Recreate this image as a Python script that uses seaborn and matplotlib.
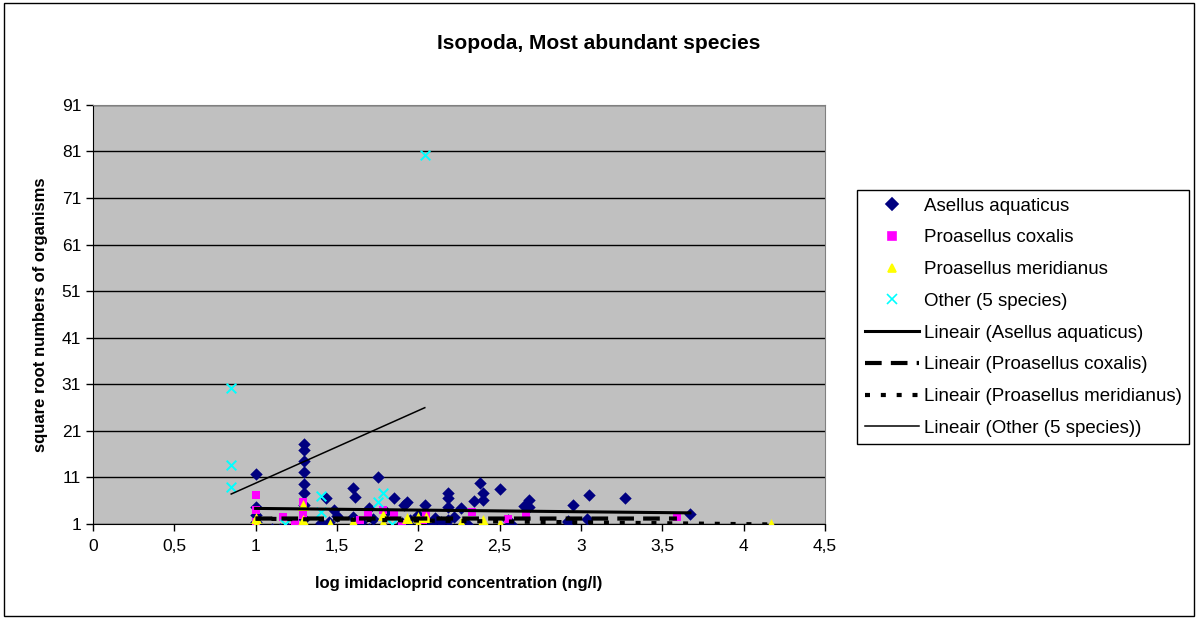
import pandas as pd
import matplotlib.pyplot as plt
import seaborn as sns
import numpy as np
from matplotlib.lines import Line2D

# Data (x = log imidacloprid conc., y = sqrt numbers)
# sites with zero counts sit at y = 0, below the axis minimum of 1, so they
# are not visible but they still pull the trend lines down
asellus_x = [1.00, 1.00, 1.00, 1.00,
             1.30, 1.30, 1.30, 1.30, 1.30, 1.30, 1.30, 1.30,
             1.40, 1.43, 1.48, 1.45, 1.50,
             1.60, 1.61, 1.60, 1.65, 1.70, 1.75, 1.72, 1.80,
             1.85, 1.91, 1.93, 1.95, 1.90, 2.04, 2.00, 2.08, 2.10,
             2.14, 2.18, 2.18, 2.18, 2.18, 2.26, 2.22, 2.30, 2.34,
             2.38, 2.40, 2.40, 2.50, 2.55, 2.57, 2.65, 2.68, 2.68,
             2.92, 2.92, 2.95, 3.04, 3.05, 3.27, 3.67,
             1.00, 1.00, 1.10, 1.15, 1.20, 1.20, 1.25, 1.30,
             1.60, 1.70, 1.80, 1.90, 2.00, 2.00, 2.10, 2.20, 2.30, 2.40]
asellus_y = [11.7, 4.6, 3.0, 1.5,
             18.2, 16.9, 14.5, 12.1, 9.6, 7.7, 5.0, 2.0,
             1.2, 6.6, 4.0, 1.5, 2.8,
             8.7, 6.8, 2.5, 1.5, 4.4, 11.1, 2.0, 3.5,
             6.6, 5.1, 5.7, 1.8, 1.2, 5.1, 3.0, 1.3, 2.2,
             1.4, 7.7, 6.6, 4.7, 1.9, 4.4, 2.5, 1.0, 5.9,
             9.8, 7.7, 6.2, 8.5, 1.9, 1.0, 4.9, 6.2, 4.7,
             1.6, 1.4, 5.1, 2.1, 7.2, 6.6, 3.1,
             0, 0, 0, 0, 0, 0, 0, 0,
             0, 0, 0, 0, 0, 0, 0, 0, 0, 0]

coxalis_x = [1.00, 1.00, 1.00, 1.17, 1.24, 1.29, 1.29, 1.64, 1.69, 1.78,
             1.85, 1.90, 2.03, 2.05, 2.33, 2.55, 2.66, 3.59,
             1.00, 1.10, 1.30, 1.50, 1.60, 1.80, 2.00]
coxalis_y = [7.2, 4.0, 1.4, 2.5, 1.2, 5.7, 2.9, 1.9, 3.4, 4.0,
             3.4, 1.0, 1.9, 2.9, 3.6, 2.1, 2.7, 2.5,
             0, 0, 0, 0, 0, 0, 0]

meridianus_x = [1.00, 1.00, 1.29, 1.29, 1.29, 1.46, 1.60, 1.78, 1.78, 1.93,
                2.00, 2.00, 2.05, 2.26, 2.26, 2.40, 2.50, 4.17]
meridianus_y = [2.3, 1.0, 5.1, 1.9, 1.0, 1.0, 1.4, 2.9, 1.2, 2.3,
                2.5, 1.0, 2.5, 1.2, 1.0, 1.9, 1.0, 1.0]

other_x = [0.85, 0.85, 0.85, 1.18, 1.40, 1.40, 1.75, 1.78, 1.84, 2.04]
other_y = [8.9, 13.7, 30.2, 1.0, 7.0, 3.6, 5.7, 7.7, 1.0, 80.3]

species = ['Asellus aquaticus', 'Proasellus coxalis',
           'Proasellus meridianus', 'Other (5 species)']

df = pd.concat([
    pd.DataFrame({'x': asellus_x, 'y': asellus_y, 'species': species[0]}),
    pd.DataFrame({'x': coxalis_x, 'y': coxalis_y, 'species': species[1]}),
    pd.DataFrame({'x': meridianus_x, 'y': meridianus_y, 'species': species[2]}),
    pd.DataFrame({'x': other_x, 'y': other_y, 'species': species[3]}),
])

colors = {species[0]: '#000080', species[1]: '#FF00FF',
          species[2]: '#FFFF00', species[3]: '#00FFFF'}
markers = {species[0]: 'D', species[1]: 's', species[2]: '^', species[3]: 'x'}
sizes = {species[0]: 40, species[1]: 40, species[2]: 62, species[3]: 48}
trend_styles = {species[0]: dict(lw=2.2, ls='-'),
                species[1]: dict(lw=3.0, ls=(0, (4, 2.2))),
                species[2]: dict(lw=3.0, ls=(0, (1.2, 2.6))),
                species[3]: dict(lw=1.1, ls='-')}

plt.rcParams['font.family'] = ['Liberation Sans', 'DejaVu Sans']

fig = plt.figure(figsize=(11.98, 6.19), dpi=100)
ax = fig.add_axes([0.0776, 0.1535, 0.611, 0.677])
ax.set_facecolor('#C0C0C0')

for sp in species:
    sub = df[df['species'] == sp]
    sns.scatterplot(data=sub, x='x', y='y', ax=ax, marker=markers[sp],
                    color=colors[sp], s=sizes[sp], edgecolor=colors[sp] if sp != species[3] else None,
                    linewidth=1.4 if sp == species[3] else 0, legend=False, zorder=3)

# linear trend lines
for sp in species:
    sub = df[df['species'] == sp]
    sns.regplot(data=sub, x='x', y='y', ax=ax, scatter=False, ci=None,
                truncate=True, line_kws=dict(color='black', zorder=4,
                                             **trend_styles[sp]))

ax.set_xlim(0, 4.5)
ax.set_ylim(1, 91)
ax.set_xticks(np.arange(0, 4.51, 0.5))
ax.set_xticklabels([f'{v:g}'.replace('.', ',') for v in np.arange(0, 4.51, 0.5)])
ax.set_yticks(np.arange(1, 92, 10))
ax.yaxis.grid(True, color='black', lw=1)
ax.xaxis.grid(False)
ax.set_axisbelow(True)
ax.tick_params(direction='out', length=5, width=1, labelsize=12.5, colors='black')
ax.tick_params(axis='x', pad=6)
for side in ['top', 'right']:
    ax.spines[side].set_color('#808080')
for side in ['left', 'bottom']:
    ax.spines[side].set_color('black')

ax.set_xlabel('log imidacloprid concentration (ng/l)', fontsize=12, fontweight='bold', labelpad=16)
ax.set_ylabel('square root numbers of organisms', fontsize=12, fontweight='bold', labelpad=10)
fig.suptitle('Isopoda, Most abundant species', x=0.5, y=0.945, fontsize=15, fontweight='bold')

handles = [Line2D([], [], ls='none', marker=markers[sp], color=colors[sp],
                  markersize=6 if sp != species[3] else 7, mew=1.2) for sp in species]
handles += [Line2D([], [], color='black', **trend_styles[sp]) for sp in species]
labels = species + [f'Lineair ({sp})' for sp in species]
leg = fig.legend(handles, labels, loc='upper left', bbox_to_anchor=(0.7154, 0.693),
                 fontsize=13.5, frameon=True, fancybox=False, handlelength=2.9,
                 labelspacing=0.78, borderpad=0.4, handletextpad=0.25,
                 borderaxespad=0, framealpha=1)
leg.get_frame().set_edgecolor('black')
leg.get_frame().set_linewidth(1)

fig.patches.append(plt.Rectangle((0.003, 0.005), 0.994, 0.99, transform=fig.transFigure,
                                 fill=False, edgecolor='black', lw=1))

fig.savefig('out.png', dpi=100, facecolor='white')
